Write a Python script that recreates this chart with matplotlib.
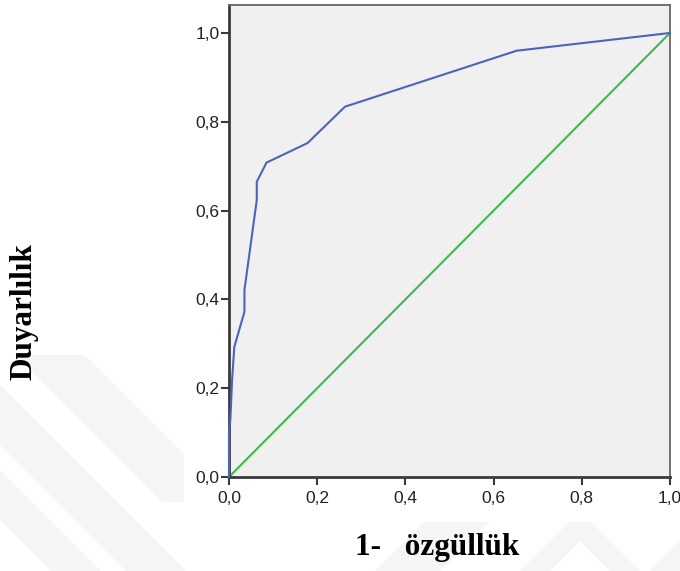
import matplotlib
matplotlib.use("Agg")
import matplotlib.pyplot as plt
from matplotlib.patches import Polygon, Rectangle

# ROC curve points (1 - specificity, sensitivity)
fpr = [0.0, 0.0, 0.003, 0.007, 0.012, 0.035, 0.035, 0.063, 0.063, 0.085, 0.178, 0.263, 0.652, 1.0]
tpr = [0.0, 0.10, 0.128, 0.218, 0.293, 0.372, 0.421, 0.624, 0.665, 0.708, 0.752, 0.834, 0.960, 1.0]
ref_line = [0.0, 1.0]
ticks = [0.0, 0.2, 0.4, 0.6, 0.8, 1.0]
tick_labels = ["0,0", "0,2", "0,4", "0,6", "0,8", "1,0"]

W, H = 680, 571
fig = plt.figure(figsize=(W / 100, H / 100), dpi=100)
fig.patch.set_facecolor("white")


def px(x, y):
    # figure pixel coords (y down) -> figure fraction
    return (x / W, 1 - y / H)


# faint watermark stripes behind the chart
wm = "#f5f5f5"
shapes = [
    [(15, 355), (85, 355), (232, 502), (162, 502)],
    [(0, 385), (0, 445), (126, 571), (186, 571)],
    [(0, 470), (0, 520), (51, 571), (101, 571)],
    [(375, 571), (440, 571), (500, 511), (435, 511)],
    [(520, 571), (580, 511), (640, 571), (610, 571), (580, 541), (550, 571)],
    [(650, 571), (680, 571), (680, 541)],
]
for s in shapes:
    fig.patches.append(Polygon([px(*p) for p in s], closed=True, transform=fig.transFigure,
                               facecolor=wm, edgecolor="none", zorder=0))
# white panel of the pasted chart
fig.patches.append(Rectangle(px(184, 522), (W - 184) / W, 522 / H, transform=fig.transFigure,
                             facecolor="white", edgecolor="none", zorder=0.5))

ax = fig.add_axes([229 / W, 1 - 477 / H, (670 - 229) / W, (477 - 5) / H])
ax.set_facecolor("#f0f0f0")
ax.set_zorder(1)

ax.plot(ref_line, ref_line, color="#3dba4a", lw=1.5, zorder=2)
ax.plot(fpr, tpr, color="#4a64bd", lw=1.5, zorder=3, clip_on=False)

ax.set_xlim(0, 1.0)
ax.set_ylim(0, 1.063)
ax.set_xticks(ticks)
ax.set_xticklabels(tick_labels)
ax.set_yticks(ticks)
ax.set_yticklabels(tick_labels)

for side in ["left", "bottom"]:
    ax.spines[side].set_color("#3a3a3a")
    ax.spines[side].set_linewidth(2.0)
for side in ["top", "right"]:
    ax.spines[side].set_color("#666666")
    ax.spines[side].set_linewidth(1.3)

ax.tick_params(direction="out", length=6, width=1.5, color="#3a3a3a",
               labelsize=12.5, labelcolor="#222222")
ax.tick_params(axis="y", pad=1)
ax.tick_params(axis="x", pad=4)
for lab in ax.get_xticklabels() + ax.get_yticklabels():
    lab.set_family("Liberation Sans")

fig.text(437 / W, 1 - 547 / H, "1-   özgüllük", family="Liberation Serif", weight="bold",
         fontsize=22.5, ha="center", va="center")
fig.text(24 / W, 1 - 312 / H, "Duyarlılık", family="Liberation Serif", weight="bold",
         fontsize=22.5, ha="center", va="center", rotation=90)

fig.savefig("out.png", dpi=100)
